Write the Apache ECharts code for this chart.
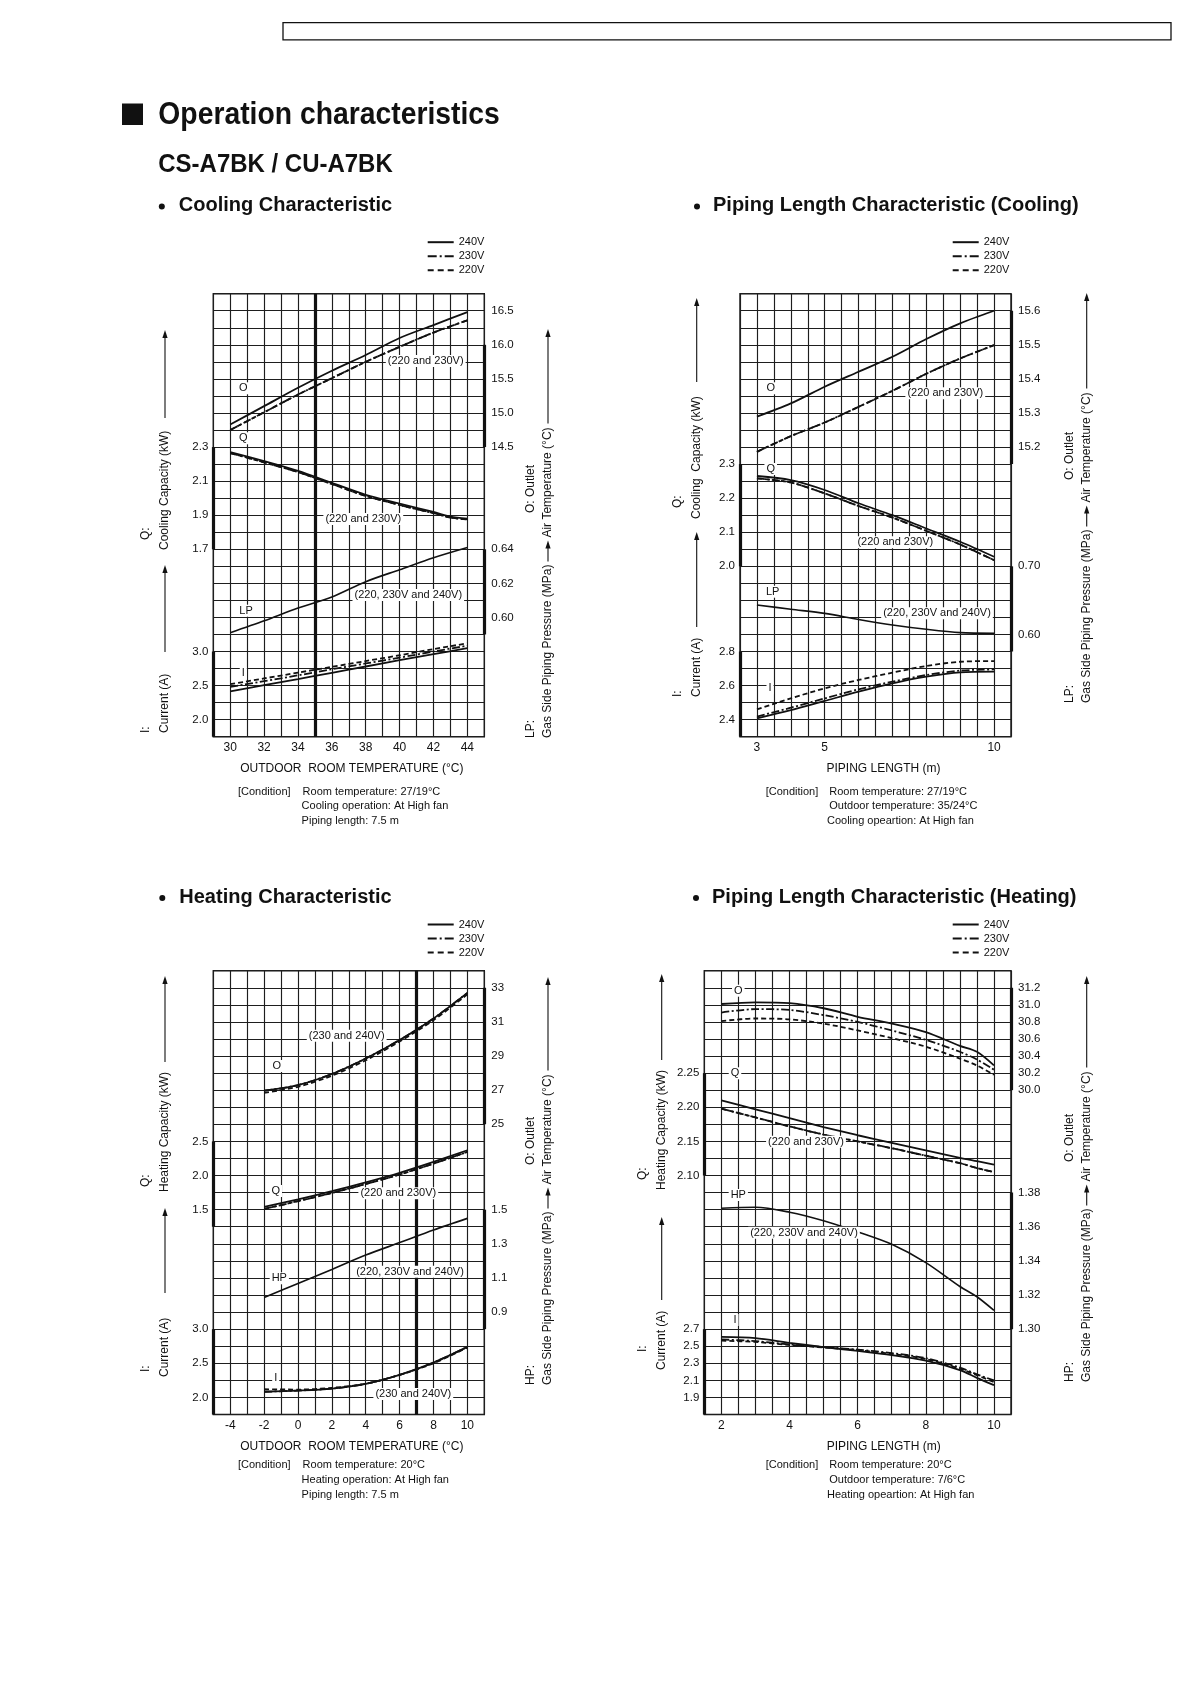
<!DOCTYPE html>
<html><head><meta charset="utf-8">
<script src="https://cdn.jsdelivr.net/npm/echarts@6/dist/echarts.min.js"></script>
<style>html,body{margin:0;padding:0;background:#fff}#c{width:1190px;height:1684px}</style>
</head><body><div id="c"></div>
<script>
// ================= DATA =================
// Cooling characteristic: x = outdoor room temperature (°C)
const coolTemp  = [30, 32, 34, 36, 38, 40, 42, 44];
const coolTempQ = [30, 32, 34, 36, 38, 40, 42, 43, 44];
const coolO240 = [14.83, 15.10, 15.37, 15.62, 15.85, 16.10, 16.29, 16.48];
const coolO230 = [14.75, 15.01, 15.27, 15.51, 15.75, 15.97, 16.18, 16.36];
const coolO220 = [14.75, 15.01, 15.27, 15.51, 15.75, 15.97, 16.18, 16.36];
const coolQ240 = [2.270, 2.217, 2.160, 2.090, 2.020, 1.968, 1.919, 1.892, 1.880];
const coolQ230 = [2.265, 2.210, 2.153, 2.083, 2.013, 1.960, 1.912, 1.886, 1.875];
const coolQ220 = [2.265, 2.210, 2.153, 2.083, 2.013, 1.960, 1.912, 1.886, 1.875];
const coolLP   = [0.591, 0.598, 0.6055, 0.612, 0.621, 0.628, 0.635, 0.641];
const coolI240 = [2.415, 2.507, 2.595, 2.688, 2.780, 2.873, 2.961, 3.049];
const coolI230 = [2.480, 2.565, 2.650, 2.740, 2.825, 2.910, 3.000, 3.085];
const coolI220 = [2.520, 2.605, 2.690, 2.775, 2.860, 2.945, 3.035, 3.120];

// Piping length characteristic (cooling): x = piping length (m)
const pipeLenC = [3, 4, 5, 6, 7, 8, 9, 10];
const pcO240 = [15.289, 15.328, 15.377, 15.421, 15.465, 15.517, 15.563, 15.600];
const pcO230 = [15.186, 15.232, 15.272, 15.318, 15.365, 15.415, 15.460, 15.499];
const pcO220 = [15.186, 15.232, 15.272, 15.318, 15.365, 15.415, 15.460, 15.499];
const pcQ240 = [2.265, 2.253, 2.224, 2.185, 2.150, 2.111, 2.072, 2.028];
const pcQ230 = [2.258, 2.246, 2.214, 2.177, 2.143, 2.104, 2.064, 2.018];
const pcQ220 = [2.258, 2.246, 2.214, 2.177, 2.143, 2.104, 2.064, 2.018];
const pcLP   = [0.6433, 0.637, 0.631, 0.622, 0.614, 0.6076, 0.6027, 0.6017];
const pcI240 = [2.408, 2.456, 2.510, 2.564, 2.613, 2.652, 2.678, 2.682];
const pcI230 = [2.418, 2.470, 2.525, 2.578, 2.623, 2.662, 2.688, 2.695];
const pcI220 = [2.460, 2.525, 2.584, 2.633, 2.676, 2.715, 2.740, 2.744];

// Heating characteristic: x = outdoor room temperature (°C)
const heatTemp = [-2, 0, 2, 4, 6, 8, 10];
const hO240 = [26.97, 27.30, 27.95, 28.86, 29.94, 31.20, 32.70];
const hO230 = [26.97, 27.30, 27.95, 28.86, 29.94, 31.20, 32.70];
const hO220 = [26.85, 27.20, 27.85, 28.75, 29.85, 31.10, 32.62];
const hQ240 = [1.540, 1.650, 1.770, 1.900, 2.040, 2.200, 2.370];
const hQ230 = [1.510, 1.625, 1.745, 1.875, 2.015, 2.175, 2.345];
const hQ220 = [1.510, 1.625, 1.745, 1.875, 2.015, 2.175, 2.345];
const hHP   = [0.986, 1.068, 1.150, 1.234, 1.307, 1.381, 1.449];
const hI240 = [2.083, 2.100, 2.130, 2.200, 2.330, 2.510, 2.740];
const hI230 = [2.083, 2.100, 2.130, 2.200, 2.330, 2.510, 2.740];
const hI220 = [2.120, 2.115, 2.140, 2.200, 2.330, 2.500, 2.730];

// Piping length characteristic (heating): x = piping length (m)
const pipeLenH = [2, 3, 4, 5, 6, 7, 8, 9, 9.5, 10];
const phO240 = [31.01, 31.03, 31.02, 30.96, 30.86, 30.78, 30.68, 30.52, 30.45, 30.29];
const phO230 = [30.91, 30.95, 30.94, 30.88, 30.80, 30.70, 30.59, 30.45, 30.36, 30.24];
const phO220 = [30.81, 30.84, 30.83, 30.78, 30.70, 30.61, 30.51, 30.37, 30.29, 30.18];
const phQ240 = [2.210, 2.197, 2.184, 2.171, 2.159, 2.148, 2.137, 2.126, 2.121, 2.116];
const phQ230 = [2.198, 2.185, 2.172, 2.160, 2.150, 2.140, 2.129, 2.118, 2.111, 2.105];
const phQ220 = [2.198, 2.185, 2.172, 2.160, 2.150, 2.140, 2.129, 2.118, 2.111, 2.105];
const phHP   = [1.3708, 1.3714, 1.3685, 1.3635, 1.3570, 1.3497, 1.3390, 1.3250, 1.3190, 1.3110];
const phI240 = [2.610, 2.595, 2.540, 2.490, 2.445, 2.395, 2.330, 2.220, 2.130, 2.045];
const phI230 = [2.580, 2.560, 2.520, 2.490, 2.460, 2.420, 2.360, 2.250, 2.170, 2.100];
const phI220 = [2.565, 2.550, 2.515, 2.485, 2.455, 2.410, 2.350, 2.235, 2.160, 2.080];

// Tick labels
const coolTempTicks = [30, 32, 34, 36, 38, 40, 42, 44];
const coolOTicks  = [14.5, 15.0, 15.5, 16.0, 16.5];
const coolQTicks  = [1.7, 1.9, 2.1, 2.3];
const coolLPTicks = [0.60, 0.62, 0.64];
const coolITicks  = [2.0, 2.5, 3.0];
const pipeCTicks   = [3, 5, 10];
const pipeCOTicks  = [15.2, 15.3, 15.4, 15.5, 15.6];
const pipeCQTicks  = [2.0, 2.1, 2.2, 2.3];
const pipeCLPTicks = [0.60, 0.70];
const pipeCITicks  = [2.4, 2.6, 2.8];
const heatTempTicks = [-4, -2, 0, 2, 4, 6, 8, 10];
const heatOTicks  = [25, 27, 29, 31, 33];
const heatQTicks  = [1.5, 2.0, 2.5];
const heatHPTicks = [0.9, 1.1, 1.3, 1.5];
const heatITicks  = [2.0, 2.5, 3.0];
const pipeHTicks   = [2, 4, 6, 8, 10];
const pipeHOTicks  = [30.0, 30.2, 30.4, 30.6, 30.8, 31.0, 31.2];
const pipeHQTicks  = [2.10, 2.15, 2.20, 2.25];
const pipeHHPTicks = [1.30, 1.32, 1.34, 1.36, 1.38];
const pipeHITicks  = [1.9, 2.1, 2.3, 2.5, 2.7];

const voltages = ['240V', '230V', '220V'];

// ================= LAYOUT / STYLE =================
const FONT = '"Liberation Sans", Arial, Helvetica, sans-serif';
const INK = '#111';
const GRIDC = '#1e1e1e';
const STY = {
  '240': {type: 'solid', width: 1.8},
  '230': {type: [8, 2.5, 2, 2.5], width: 1.8},
  '220': {type: [5, 3], width: 1.8},
  'one': {type: 'solid', width: 1.6}
};

const panels = [
  { rect: [213.3, 293.7, 271, 443],
    x: {min: 29, max: 45, step: 1, ticks: coolTempTicks, name: 'OUTDOOR  ROOM TEMPERATURE (°C)', shift: 3},
    thick: 35,
    axes: {
      O:  {side: 'right', min: 10.25, max: 16.75, ticks: coolOTicks, dec: 1, bar: [14.5, 16.0]},
      Q:  {side: 'left',  min: 0.6,  max: 3.2,  ticks: coolQTicks, dec: 1, bar: [1.7, 2.3]},
      LP: {side: 'right', min: 0.53, max: 0.79, ticks: coolLPTicks, dec: 2, bar: [0.59, 0.64]},
      I:  {side: 'left',  min: 1.75, max: 8.25, ticks: coolITicks, dec: 1, bar: [1.75, 3.0]}
    },
    lines: [
      ['240V', 'O', coolTemp, coolO240, '240'], ['230V', 'O', coolTemp, coolO230, '230'], ['220V', 'O', coolTemp, coolO220, '220'],
      ['240V', 'Q', coolTempQ, coolQ240, '240'], ['230V', 'Q', coolTempQ, coolQ230, '230'], ['220V', 'Q', coolTempQ, coolQ220, '220'],
      ['LP', 'LP', coolTemp, coolLP, 'one'],
      ['240V', 'I', coolTemp, coolI240, '240'], ['230V', 'I', coolTemp, coolI230, '230'], ['220V', 'I', coolTemp, coolI220, '220']
    ],
    legend: [427.7, 236.7]
  },
  { rect: [740, 293.7, 271, 443],
    x: {min: 2.5, max: 10.5, step: 0.5, ticks: pipeCTicks, name: 'PIPING LENGTH (m)', shift: 8},
    thick: null,
    axes: {
      O:  {side: 'right', min: 14.35, max: 15.65, ticks: pipeCOTicks, dec: 1, bar: [15.15, 15.6]},
      Q:  {side: 'left',  min: 1.5,  max: 2.8,  ticks: pipeCQTicks, dec: 1, bar: [2.0, 2.3]},
      LP: {side: 'right', min: 0.45, max: 1.10, ticks: pipeCLPTicks, dec: 2, bar: [0.575, 0.70]},
      I:  {side: 'left',  min: 2.3,  max: 4.9,  ticks: pipeCITicks, dec: 1, bar: [2.3, 2.8]}
    },
    lines: [
      ['240V', 'O', pipeLenC, pcO240, '240'], ['230V', 'O', pipeLenC, pcO230, '230'], ['220V', 'O', pipeLenC, pcO220, '220'],
      ['240V', 'Q', pipeLenC, pcQ240, '240'], ['230V', 'Q', pipeLenC, pcQ230, '230'], ['220V', 'Q', pipeLenC, pcQ220, '220'],
      ['LP', 'LP', pipeLenC, pcLP, 'one'],
      ['240V', 'I', pipeLenC, pcI240, '240'], ['230V', 'I', pipeLenC, pcI230, '230'], ['220V', 'I', pipeLenC, pcI220, '220']
    ],
    legend: [952.7, 236.7]
  },
  { rect: [213.3, 970.7, 271, 443.8],
    x: {min: -5, max: 11, step: 1, ticks: heatTempTicks, name: 'OUTDOOR  ROOM TEMPERATURE (°C)', shift: 3},
    thick: 7,
    axes: {
      O:  {side: 'right', min: 8,    max: 34,   ticks: heatOTicks, dec: 0, bar: [25, 33]},
      Q:  {side: 'left',  min: -1.5, max: 5.0,  ticks: heatQTicks, dec: 1, bar: [1.25, 2.5]},
      HP: {side: 'right', min: 0.3,  max: 2.9,  ticks: heatHPTicks, dec: 1, bar: [0.8, 1.5]},
      I:  {side: 'left',  min: 1.75, max: 8.25, ticks: heatITicks, dec: 1, bar: [1.75, 3.0]}
    },
    lines: [
      ['240V', 'O', heatTemp, hO240, '240'], ['230V', 'O', heatTemp, hO230, '230'], ['220V', 'O', heatTemp, hO220, '220'],
      ['240V', 'Q', heatTemp, hQ240, '240'], ['230V', 'Q', heatTemp, hQ230, '230'], ['220V', 'Q', heatTemp, hQ220, '220'],
      ['HP', 'HP', heatTemp, hHP, 'one'],
      ['240V', 'I', heatTemp, hI240, '240'], ['230V', 'I', heatTemp, hI230, '230'], ['220V', 'I', heatTemp, hI220, '220']
    ],
    legend: [427.7, 919]
  },
  { rect: [704.3, 970.7, 306.7, 443.8],
    x: {min: 1.5, max: 10.5, step: 0.5, ticks: pipeHTicks, name: 'PIPING LENGTH (m)', shift: 26},
    thick: null,
    axes: {
      O:  {side: 'right', min: 26.2, max: 31.4, ticks: pipeHOTicks, dec: 1, bar: [30.0, 31.2]},
      Q:  {side: 'left',  min: 1.75, max: 2.40, ticks: pipeHQTicks, dec: 2, bar: [2.10, 2.25]},
      HP: {side: 'right', min: 1.25, max: 1.51, ticks: pipeHHPTicks, dec: 2, bar: [1.30, 1.38]},
      I:  {side: 'left',  min: 1.7,  max: 6.9,  ticks: pipeHITicks, dec: 1, bar: [1.7, 2.7]}
    },
    lines: [
      ['240V', 'O', pipeLenH, phO240, '240'], ['230V', 'O', pipeLenH, phO230, '230'], ['220V', 'O', pipeLenH, phO220, '220'],
      ['240V', 'Q', pipeLenH, phQ240, '240'], ['230V', 'Q', pipeLenH, phQ230, '230'], ['220V', 'Q', pipeLenH, phQ220, '220'],
      ['HP', 'HP', pipeLenH, phHP, 'one'],
      ['240V', 'I', pipeLenH, phI240, '240'], ['230V', 'I', pipeLenH, phI230, '230'], ['220V', 'I', pipeLenH, phI220, '220']
    ],
    legend: [952.7, 919]
  }
];

// ================= BUILD OPTION =================
const grids = [], xAxes = [], yAxes = [], series = [], legends = [];
const ICONS = {
  '240V': 'path://M0,0H26V2H0Z',
  '230V': 'path://M0,0H9V2H0Z M12,0H14V2H12Z M17,0H26V2H17Z',
  '220V': 'path://M0,0H6V2H0Z M10,0H16V2H10Z M20,0H26V2H20Z'
};

panels.forEach(function (p) {
  const g = grids.length;
  grids.push({left: p.rect[0], top: p.rect[1], width: p.rect[2], height: p.rect[3],
    show: true, borderColor: INK, borderWidth: 1.4, backgroundColor: 'transparent',
    containLabel: false, outerBoundsMode: 'none'});
  xAxes.push({gridIndex: g, type: 'value', min: p.x.min, max: p.x.max, interval: p.x.step,
    axisLine: {show: false}, axisTick: {show: false},
    splitLine: {show: true, lineStyle: {color: GRIDC, width: 1.15}},
    axisLabel: {customValues: p.x.ticks, margin: 5, fontSize: 12, color: INK, fontFamily: FONT},
    name: p.x.name, nameLocation: 'middle', nameGap: 26,
    nameTextStyle: {fontSize: 12, color: INK, fontFamily: FONT, padding: [0, 0, 0, p.x.shift * 2]}});
  // frame axis (26 rows of the chart paper)
  yAxes.push({gridIndex: g, type: 'value', min: 0, max: 26, interval: 1,
    axisLine: {show: false}, axisTick: {show: false}, axisLabel: {show: false},
    splitLine: {show: true, lineStyle: {color: GRIDC, width: 1.15}}});
  const axisIdx = {};
  Object.keys(p.axes).forEach(function (k) {
    const a = p.axes[k];
    yAxes.push({gridIndex: g, type: 'value', min: a.min, max: a.max, position: a.side, offset: 0,
      axisLine: {show: false}, axisTick: {show: false}, splitLine: {show: false},
      axisLabel: {customValues: a.ticks, margin: a.side === 'left' ? 5 : 7, fontSize: 11.5,
        color: INK, fontFamily: FONT, formatter: function (v) { return Number(v).toFixed(a.dec); }}});
    axisIdx[k] = yAxes.length - 1;
  });
  const barDone = {};
  let thickDone = false;
  p.lines.forEach(function (L) {
    const name = L[0], key = L[1], xs = L[2], ys = L[3], st = STY[L[4]];
    const s = {type: 'line', name: name, xAxisIndex: g, yAxisIndex: axisIdx[key],
      data: xs.map(function (x, i) { return [x, ys[i]]; }),
      smooth: 0.3, symbol: 'none', showSymbol: false, clip: false,
      color: INK, itemStyle: {color: INK},
      lineStyle: {color: INK, width: st.width, type: st.type}, z: 3, silent: true};
    const ml = [];
    if (!barDone[key]) {
      barDone[key] = true;
      const a = p.axes[key];
      const ex = a.side === 'left' ? p.x.min : p.x.max;
      ml.push([{coord: [ex, a.bar[0]]}, {coord: [ex, a.bar[1]]}]);
    }
    if (!thickDone && p.thick !== null) {
      thickDone = true;
      ml.push({xAxis: p.thick});
    }
    if (ml.length) {
      s.markLine = {silent: true, symbol: ['none', 'none'], animation: false, label: {show: false},
        lineStyle: {color: INK, width: 3.2, type: 'solid'}, emphasis: {disabled: true}, data: ml};
    }
    series.push(s);
  });
  legends.push({left: p.legend[0], top: p.legend[1], orient: 'vertical', padding: 0,
    itemWidth: 26, itemHeight: 14, itemGap: 3, selectedMode: false,
    itemStyle: {color: INK, borderWidth: 0},
    textStyle: {fontSize: 11, color: INK, fontFamily: FONT},
    data: voltages.map(function (v) { return {name: v, icon: ICONS[v]}; })});
});

// ================= TEXT DECORATIONS =================
const mctx = document.createElement('canvas').getContext('2d');
function tw(t, size) { mctx.font = size + 'px ' + FONT; return mctx.measureText(t).width; }
const gfx = [];
function txt(t, x, y, size, opts) {
  opts = opts || {};
  gfx.push({type: 'text', x: x, y: y, rotation: opts.rot || 0, scaleX: opts.sx || 1, z: 60, silent: true,
    style: {text: t, x: 0, y: 0, fill: INK, font: (opts.bold ? 'bold ' : '') + size + 'px ' + FONT,
      textAlign: opts.align || 'left', align: opts.align || 'left',
      textVerticalAlign: 'middle', verticalAlign: 'middle',
      backgroundColor: opts.bg || null, padding: opts.bg ? [1, 2, 0, 2] : 0}});
}
function rot(t, x, bottom, size) { txt(t, x, bottom, size, {rot: Math.PI / 2}); }
function arrowUp(x, tip, bottom) {
  gfx.push({type: 'line', z: 60, silent: true, shape: {x1: x, y1: bottom, x2: x, y2: tip + 6}, style: {stroke: INK, lineWidth: 1.1}});
  gfx.push({type: 'polygon', z: 60, silent: true, shape: {points: [[x, tip], [x - 2.6, tip + 8], [x + 2.6, tip + 8]]}, style: {fill: INK}});
}

// page header
gfx.push({type: 'rect', z: 60, silent: true, shape: {x: 283, y: 22.6, width: 888, height: 17.2}, style: {fill: null, stroke: INK, lineWidth: 1.3}});
gfx.push({type: 'rect', z: 60, silent: true, shape: {x: 122, y: 103.5, width: 21, height: 21.5}, style: {fill: INK}});
txt('Operation characteristics', 158.3, 115, 32, {bold: true, sx: 0.885});
txt('CS-A7BK / CU-A7BK', 158.3, 164.5, 25.5, {bold: true, sx: 0.94});
const sectionTitles = [
  ['Cooling Characteristic', 178.8, 205.5, 161.8],
  ['Piping Length Characteristic (Cooling)', 713, 205.5, 697],
  ['Heating Characteristic', 179.3, 897, 162.3],
  ['Piping Length Characteristic (Heating)', 712, 897, 696]
];
sectionTitles.forEach(function (s) {
  txt(s[0], s[1], s[2], 20, {bold: true});
  gfx.push({type: 'circle', z: 60, silent: true, shape: {cx: s[3], cy: s[2] + 1, r: 3}, style: {fill: INK}});
});

// in-plot annotations
const notes = [
  ['O', 243.3, 388.3], ['Q', 243.3, 438.3], ['(220 and 230V)', 425.7, 361], ['(220 and 230V)', 363.3, 519],
  ['LP', 246, 610.7], ['(220, 230V and 240V)', 408.3, 595], ['I', 243.3, 673.3],
  ['O', 770.7, 388.3], ['(220 and 230V)', 945.3, 393.3], ['Q', 770.7, 469], ['(220 and 230V)', 895.3, 542.3],
  ['LP', 772.7, 591.7], ['(220, 230V and 240V)', 937, 613.3], ['I', 770, 688.3],
  ['(230 and 240V)', 346.7, 1035.7], ['O', 276.7, 1066], ['Q', 275.7, 1191], ['(220 and 230V)', 398.3, 1193.3],
  ['HP', 279.3, 1278.3], ['(220, 230V and 240V)', 410, 1271.7], ['I', 275.7, 1378.3], ['(230 and 240V)', 413.3, 1394],
  ['O', 738.3, 990.7], ['Q', 735, 1073.3], ['(220 and 230V)', 806, 1141.7], ['HP', 738.3, 1195],
  ['(220, 230V and 240V)', 804, 1232.7], ['I', 735, 1320]
];
notes.forEach(function (n) { txt(n[0], n[1], n[2], 11, {align: 'center', bg: '#fff'}); });

// left axis titles
const leftTitles = [
  {x: 165, hx: 145.5, items: [
    {text: 'Cooling Capacity (kW)', bottom: 550, head: 'Q:', hb: 540, tip: 330, ab: 418},
    {text: 'Current (A)', bottom: 733, head: 'I:', hb: 733, tip: 565, ab: 652}]},
  {x: 696.7, hx: 677.5, items: [
    {text: 'Cooling  Capacity (kW)', bottom: 519, head: 'Q:', hb: 508, tip: 298, ab: 382},
    {text: 'Current (A)', bottom: 697, head: 'I:', hb: 697, tip: 532, ab: 627}]},
  {x: 165, hx: 146, items: [
    {text: 'Heating Capacity (kW)', bottom: 1192, head: 'Q:', hb: 1187, tip: 976, ab: 1062},
    {text: 'Current (A)', bottom: 1377, head: 'I:', hb: 1372, tip: 1208, ab: 1293}]},
  {x: 661.7, hx: 643, items: [
    {text: 'Heating Capacity (kW)', bottom: 1190, head: 'Q:', hb: 1180, tip: 974, ab: 1060},
    {text: 'Current (A)', bottom: 1370, head: 'I:', hb: 1352, tip: 1217, ab: 1300}]}
];
leftTitles.forEach(function (L) {
  L.items.forEach(function (it) {
    rot(it.text, L.x, it.bottom, 12);
    rot(it.head, L.hx, it.hb, 12);
    arrowUp(L.x, it.tip, it.ab);
  });
});

// right axis titles
const rightTitles = [
  {x: 548, hx: 531, bottom: 738, tip: 329, low: 'LP:', ub: 513},
  {x: 1086.7, hx: 1070, bottom: 703, tip: 293, low: 'LP:', ub: 480},
  {x: 548, hx: 531, bottom: 1385, tip: 977, low: 'HP:', ub: 1165},
  {x: 1086.7, hx: 1070, bottom: 1382, tip: 976, low: 'HP:', ub: 1162}
];
rightTitles.forEach(function (R) {
  const t1 = 'Gas Side Piping Pressure (MPa)', t2 = 'Air Temperature (°C)';
  rot(t1, R.x, R.bottom, 12);
  const l1 = tw(t1, 12);
  const a0 = R.bottom - l1 - 3;
  arrowUp(R.x, a0 - 21, a0);
  const s2 = a0 - 24;
  rot(t2, R.x, s2, 12);
  const l2 = tw(t2, 12);
  arrowUp(R.x, R.tip, s2 - l2 - 4);
  rot(R.low, R.hx, R.bottom, 12);
  rot('O: Outlet', R.hx, R.ub, 12);
});

// conditions
const conds = [
  ['[Condition]', 238, 791.6], ['Room temperature: 27/19°C', 302.6, 791.6], ['Cooling operation: At High fan', 301.6, 805.6], ['Piping length: 7.5 m', 301.6, 820.7],
  ['[Condition]', 765.7, 791.6], ['Room temperature: 27/19°C', 829.3, 791.6], ['Outdoor temperature: 35/24°C', 829.3, 805.6], ['Cooling opeartion: At High fan', 827, 820.7],
  ['[Condition]', 238, 1464.7], ['Room temperature: 20°C', 302.6, 1464.7], ['Heating operation: At High fan', 301.6, 1479.8], ['Piping length: 7.5 m', 301.6, 1494.9],
  ['[Condition]', 765.7, 1464.7], ['Room temperature: 20°C', 829.3, 1464.7], ['Outdoor temperature: 7/6°C', 829.3, 1479.8], ['Heating opeartion: At High fan', 827, 1494.9]
];
conds.forEach(function (c) { txt(c[0], c[1], c[2], 11); });

const chart = echarts.init(document.getElementById('c'), null, {renderer: 'canvas', width: 1190, height: 1684});
chart.setOption({
  backgroundColor: '#fff',
  animation: false,
  textStyle: {fontFamily: FONT},
  grid: grids,
  xAxis: xAxes,
  yAxis: yAxes,
  legend: legends,
  series: series,
  graphic: {elements: gfx}
});
</script>
</body></html>
